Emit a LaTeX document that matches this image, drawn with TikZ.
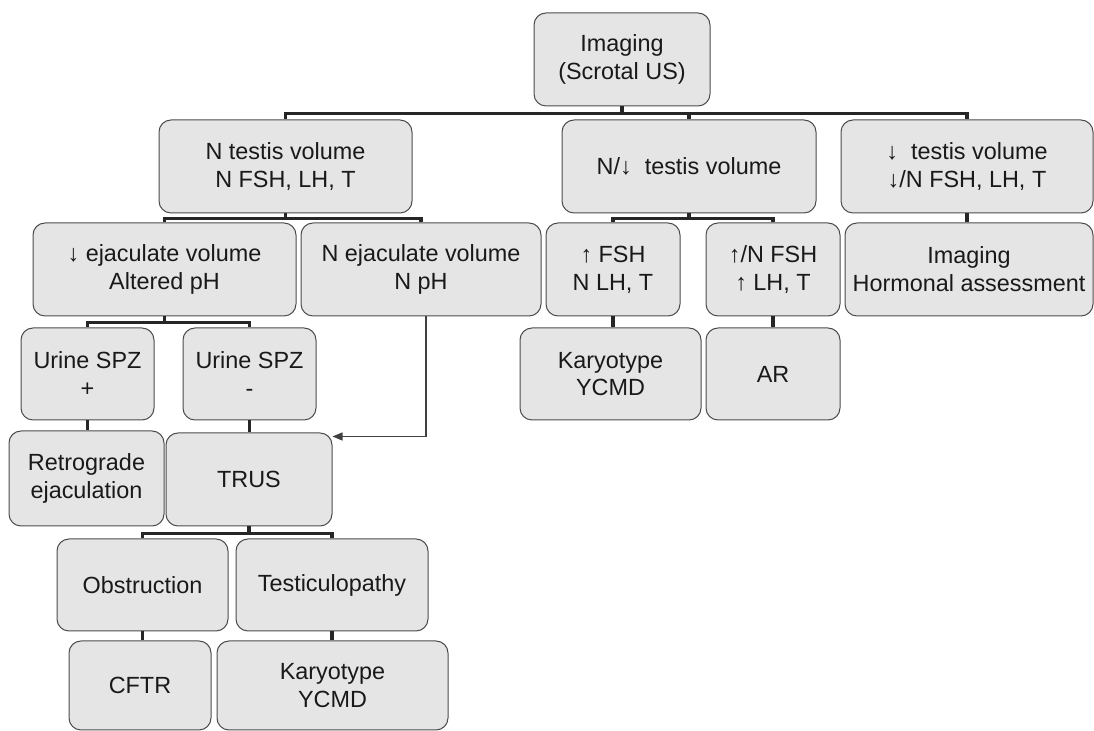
\documentclass[tikz,border=0pt]{standalone}
\usepackage{fontspec}
\setmainfont{Liberation Sans}
\usetikzlibrary{arrows.meta}

\tikzset{
  box/.style={draw=black!70, fill=black!10, rounded corners=6pt, align=center, inner sep=2pt,
    line width=0.5pt, text=black!90, font=\fontsize{11.7pt}{13.9pt}\selectfont},
  link/.style={line width=1.7pt, black!85},
  pointer/.style={line width=0.6pt, black!75, -{Triangle[length=5pt,width=4pt]}}
}

\begin{document}
\begin{tikzpicture}[x=0.5pt,y=-0.5pt]
\useasboundingbox (0,0) rectangle (1094,731);

\node[box, minimum width=88pt, minimum height=46.5pt] (root) at (622,59.5) {Imaging\\(Scrotal US)};

\node[box, minimum width=126.5pt, minimum height=46.5pt] (ntv) at (285.5,166.5) {N testis volume\\N FSH, LH, T};
\node[box, minimum width=127pt, minimum height=46.5pt] (nd) at (689,166.5) {N/↓~ testis volume};
\node[box, minimum width=126pt, minimum height=46.5pt] (dtv) at (967,166.5) {↓~ testis volume\\↓/N FSH, LH, T};

\node[box, minimum width=131.5pt, minimum height=46.5pt] (dej) at (164.5,269.5) {↓ ejaculate volume\\Altered pH};
\node[box, minimum width=120pt, minimum height=46.5pt] (nej) at (421,269.5) {N ejaculate volume\\N pH};
\node[box, minimum width=67pt, minimum height=46.5pt] (ufsh) at (613,269.5) {↑ FSH\\N LH, T};
\node[box, minimum width=67pt, minimum height=46.5pt] (ulh) at (773,269.5) {↑/N FSH\\↑ LH, T};
\node[box, minimum width=124pt, minimum height=46.5pt] (img) at (969,269.5) {Imaging\\Hormonal assessment};

\node[box, minimum width=66.5pt, minimum height=46pt] (up) at (87.5,374) {Urine SPZ\\+};
\node[box, minimum width=66.5pt, minimum height=46pt] (um) at (249.5,374) {Urine SPZ\\-};
\node[box, minimum width=90.5pt, minimum height=46pt] (kar1) at (610.5,374) {Karyotype\\YCMD};
\node[box, minimum width=67pt, minimum height=46pt] (ar) at (773,374) {AR};

\node[box, minimum width=77.5pt, minimum height=47.5pt] (retro) at (86.5,478.5) {Retrograde\\ejaculation};
\node[box, minimum width=83pt, minimum height=46.5pt] (trus) at (249,479.5) {TRUS};

\node[box, minimum width=85.5pt, minimum height=46pt] (obs) at (142.5,585) {Obstruction};
\node[box, minimum width=96pt, minimum height=46pt] (test) at (332,585) {Testiculopathy};

\node[box, minimum width=71pt, minimum height=44.5pt] (cftr) at (140,685.5) {CFTR};
\node[box, minimum width=115.5pt, minimum height=44.5pt] (kar2) at (332.5,685.5) {Karyotype\\YCMD};

\draw[link] (root.south) -- ++(0,7) -| (ntv.north);
\draw[link] (root.south) -- ++(0,7) -| (nd.north);
\draw[link] (root.south) -- ++(0,7) -| (dtv.north);

\draw[link] (ntv.south) -- ++(0,5) -| (dej.north);
\draw[link] (ntv.south) -- ++(0,5) -| (nej.north);
\draw[link] (nd.south) -- ++(0,5) -| (ufsh.north);
\draw[link] (nd.south) -- ++(0,5) -| (ulh.north);
\draw[link] (dtv.south) -- (dtv.south |- img.north);

\draw[link] (dej.south) -- ++(0,6) -| (up.north);
\draw[link] (dej.south) -- ++(0,6) -| (um.north);
\draw[link] (ufsh.south) -- (ufsh.south |- kar1.north);
\draw[link] (ulh.south) -- (ar.north);

\draw[link] (up.south) -- (up.south |- retro.north);
\draw[link] (um.south) -- (um.south |- trus.north);
\draw[pointer] ([xshift=2.5pt]nej.south) |- ([yshift=-2pt]trus.north east);

\draw[link] (trus.south) -- ++(0,7) -| (obs.north);
\draw[link] (trus.south) -- ++(0,7) -| (test.north);
\draw[link] (obs.south) -- (obs.south |- cftr.north);
\draw[link] (test.south) -- (test.south |- kar2.north);
\end{tikzpicture}
\end{document}
